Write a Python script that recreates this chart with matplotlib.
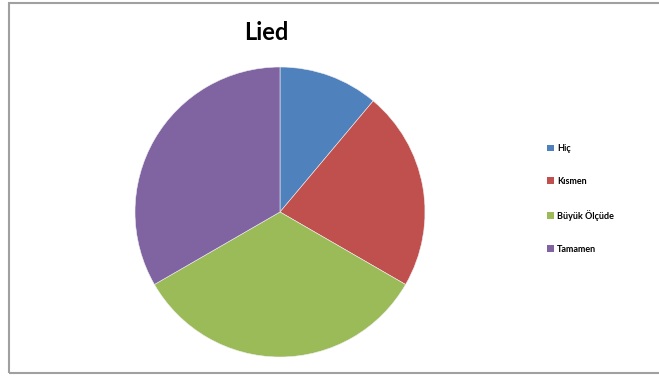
import matplotlib
matplotlib.use("Agg")
import matplotlib.pyplot as plt
from matplotlib.patches import Rectangle, Patch

labels = ["Hiç", "Kısmen", "Büyük Ölçüde", "Tamamen"]
values = [1, 2, 3, 3]
colors = ["#4F81BD", "#C0504D", "#9BBB59", "#8064A2"]
title = "Lied"

fig = plt.figure(figsize=(6.59, 3.76), dpi=100)
fig.patch.set_facecolor("white")

# outer chart border
fig.add_artist(Rectangle((9/659, 3/376), 1.2, 370/376, transform=fig.transFigure,
                         fill=False, edgecolor="#A0A0A0", linewidth=1.5))

ax = fig.add_axes([(280-145)/659, (376-357)/376, 290/659, 290/376])
wedges, _ = ax.pie(values, colors=colors, startangle=90, counterclock=False,
                   wedgeprops=dict(linewidth=0.4, edgecolor="#F0F0F0"))
ax.set_aspect("auto")
ax.set_xlim(-1, 1)
ax.set_ylim(-1, 1)

fig.text(266/659, 1 - 32/376, title, ha="center", va="center",
         fontsize=17, fontweight="bold", family=["Lato", "DejaVu Sans"])

handles = [Patch(facecolor=c, edgecolor="none") for c in colors]
leg = fig.legend(handles, labels, loc="center left",
                 bbox_to_anchor=(539/659, 1 - 199/376),
                 frameon=False, prop=dict(family=["Lato", "DejaVu Sans"], size=6.5, weight="bold"),
                 handlelength=0.8, handleheight=0.8, handletextpad=0.3,
                 labelspacing=2.65)

fig.savefig("out.png", dpi=100)
